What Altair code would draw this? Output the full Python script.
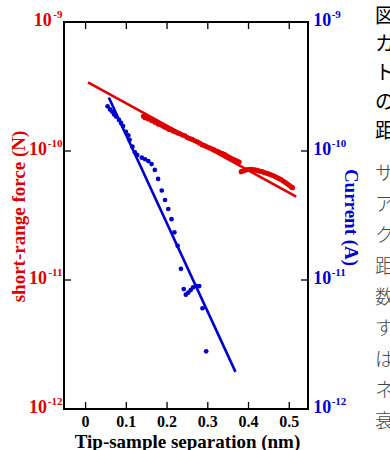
import altair as alt
import pandas as pd

RED = "#dd0000"
BLUE = "#0000cc"
SERIF = "Liberation Serif"
JP = "Noto Sans CJK JP"

# ---- data ----
force_x = [0.142, 0.146, 0.150, 0.154, 0.158, 0.162, 0.166, 0.170, 0.174, 0.178,
           0.182, 0.186, 0.190, 0.195, 0.200, 0.205, 0.210, 0.215, 0.220, 0.226,
           0.232, 0.238, 0.244, 0.250, 0.256, 0.262, 0.268, 0.274, 0.280, 0.286,
           0.292, 0.298, 0.304, 0.310, 0.316, 0.324, 0.330, 0.336, 0.342, 0.348,
           0.354, 0.360, 0.366, 0.372, 0.377,
           0.382, 0.386, 0.390, 0.395, 0.400, 0.405, 0.410, 0.415, 0.420, 0.425,
           0.430, 0.435, 0.440, 0.445, 0.450, 0.455, 0.460, 0.465, 0.470, 0.475,
           0.480, 0.485, 0.490, 0.495, 0.500, 0.505, 0.508]
force_y = [1.86e-10, 1.81e-10, 1.83e-10, 1.77e-10, 1.79e-10, 1.72e-10, 1.73e-10, 1.67e-10, 1.68e-10, 1.62e-10,
           1.61e-10, 1.59e-10, 1.56e-10, 1.53e-10, 1.51e-10, 1.47e-10, 1.46e-10, 1.43e-10, 1.41e-10, 1.38e-10,
           1.36e-10, 1.33e-10, 1.31e-10, 1.27e-10, 1.25e-10, 1.23e-10, 1.20e-10, 1.18e-10, 1.15e-10, 1.12e-10,
           1.10e-10, 1.08e-10, 1.06e-10, 1.04e-10, 1.02e-10, 9.95e-11, 9.73e-11, 9.55e-11, 9.38e-11, 9.12e-11,
           8.91e-11, 8.71e-11, 8.55e-11, 8.36e-11, 8.20e-11,
           6.92e-11, 7.00e-11, 7.08e-11, 7.14e-11, 7.19e-11, 7.21e-11, 7.18e-11, 7.14e-11, 7.08e-11, 7.02e-11,
           6.95e-11, 6.89e-11, 6.79e-11, 6.73e-11, 6.64e-11, 6.55e-11, 6.46e-11, 6.34e-11, 6.22e-11, 6.11e-11,
           6.00e-11, 5.86e-11, 5.73e-11, 5.57e-11, 5.42e-11, 5.27e-11, 5.20e-11]
force_fit_x = [0.006, 0.517]
force_fit_y = [3.41e-10, 4.43e-11]

current_x = [0.054, 0.060, 0.065, 0.070, 0.075, 0.082, 0.087, 0.092, 0.099, 0.105,
             0.108, 0.115, 0.121, 0.127, 0.138, 0.146, 0.154, 0.162, 0.170, 0.178,
             0.187, 0.195, 0.203, 0.211, 0.218, 0.226, 0.234, 0.241, 0.246, 0.252,
             0.258, 0.264, 0.273, 0.279, 0.287, 0.296]
current_y = [2.22e-10, 2.10e-10, 2.02e-10, 1.92e-10, 1.85e-10, 1.74e-10, 1.65e-10, 1.56e-10, 1.41e-10, 1.32e-10,
             1.22e-10, 1.08e-10, 9.77e-11, 9.31e-11, 8.87e-11, 8.63e-11, 8.36e-11, 7.92e-11, 7.13e-11, 6.07e-11,
             4.94e-11, 4.17e-11, 3.55e-11, 2.96e-11, 2.34e-11, 1.84e-11, 1.22e-11, 8.51e-12, 7.69e-12, 7.98e-12,
             8.36e-12, 8.77e-12, 8.97e-12, 8.97e-12, 6.04e-12, 2.80e-12]
current_fit_x = [0.057, 0.368]
current_fit_y = [2.60e-10, 1.94e-12]

x_ticks = [0, 0.1, 0.2, 0.3, 0.4, 0.5]
x_labels = ["0", "0.1", "0.2", "0.3", "0.4", "0.5"]
y_ticks = [1e-9, 1e-10, 1e-11, 1e-12]
y_exps = ["-9", "-10", "-11", "-12"]

x_title = "Tip-sample separation (nm)"
left_title = "short-range force (N)"
right_title = "Current (A)"
jp_bold = ["図", "カ", "ト", "の", "距"]
jp_light = ["サ", "ア", "ク", "距", "数", "す", "は", "ネ", "衰"]

# ---- chart ----
W, H = 244, 387
TICK = 7
xs = alt.Scale(domain=[-0.053, 0.546], nice=False, zero=False)
ys = alt.Scale(type="log", domain=[1e-12, 1e-9], nice=False)


def X(f):
    return alt.X(f, type="quantitative", scale=xs, axis=None)


def Y(f):
    return alt.Y(f, type="quantitative", scale=ys, axis=None)


force_df = pd.DataFrame({"x": force_x, "y": force_y})
force_fit = pd.DataFrame({"x": force_fit_x, "y": force_fit_y})
cur_df = pd.DataFrame({"x": current_x, "y": current_y})
cur_fit = pd.DataFrame({"x": current_fit_x, "y": current_fit_y})
xt = pd.DataFrame({"v": x_ticks, "l": x_labels})
yt = pd.DataFrame({"v": y_ticks, "e": y_exps})

layers = []
layers.append(alt.Chart(force_df).mark_circle(color=RED, size=26, opacity=1).encode(x=X("x"), y=Y("y")))
layers.append(alt.Chart(force_fit).mark_line(color=RED, strokeWidth=2.6).encode(x=X("x"), y=Y("y")))
layers.append(alt.Chart(cur_df).mark_circle(color=BLUE, size=22, opacity=1).encode(x=X("x"), y=Y("y")))
layers.append(alt.Chart(cur_fit).mark_line(color=BLUE, strokeWidth=2.6).encode(x=X("x"), y=Y("y")))

# inward ticks
layers.append(alt.Chart(xt).mark_rule(color="black", strokeWidth=1.3).encode(
    x=X("v"), y=alt.value(H - TICK), y2=alt.value(H)))
layers.append(alt.Chart(xt).mark_rule(color="black", strokeWidth=1.3).encode(
    x=X("v"), y=alt.value(0), y2=alt.value(TICK)))
layers.append(alt.Chart(yt).mark_rule(color="black", strokeWidth=1.3).encode(
    y=Y("v"), x=alt.value(0), x2=alt.value(TICK)))
layers.append(alt.Chart(yt).mark_rule(color="black", strokeWidth=1.3).encode(
    y=Y("v"), x=alt.value(W - TICK), x2=alt.value(W)))

# x tick labels
layers.append(alt.Chart(xt).mark_text(font=SERIF, fontWeight="bold", fontSize=16, color="black",
                                      align="center", baseline="alphabetic").encode(
    x=X("v"), y=alt.value(H + 18.3), text="l:N"))

# left y labels (red)
layers.append(alt.Chart(yt).mark_text(font=SERIF, fontWeight="bold", fontSize=11, color=RED,
                                      align="right", baseline="alphabetic", dy=-4).encode(
    y=Y("v"), x=alt.value(-1.5), text="e:N"))
layers.append(alt.Chart(yt).transform_filter("length(datum.e) == 2").mark_text(
    font=SERIF, fontWeight="bold", fontSize=18, color=RED, align="right", baseline="alphabetic", dy=4).encode(
    y=Y("v"), x=alt.value(-12.3), text=alt.value("10")))
layers.append(alt.Chart(yt).transform_filter("length(datum.e) == 3").mark_text(
    font=SERIF, fontWeight="bold", fontSize=18, color=RED, align="right", baseline="alphabetic", dy=4).encode(
    y=Y("v"), x=alt.value(-17), text=alt.value("10")))

# right y labels (blue)
layers.append(alt.Chart(yt).mark_text(font=SERIF, fontWeight="bold", fontSize=18, color=BLUE,
                                      align="left", baseline="alphabetic", dy=4).encode(
    y=Y("v"), x=alt.value(W + 5.3), text=alt.value("10")))
layers.append(alt.Chart(yt).mark_text(font=SERIF, fontWeight="bold", fontSize=11, color=BLUE,
                                      align="left", baseline="alphabetic", dy=-4).encode(
    y=Y("v"), x=alt.value(W + 23.7), text="e:N"))

# titles
layers.append(alt.Chart(pd.DataFrame({"t": [x_title]})).mark_text(
    font=SERIF, fontWeight="bold", fontSize=19, color="black", align="center", baseline="alphabetic").encode(
    x=alt.value(123.5), y=alt.value(425.5), text="t:N"))
layers.append(alt.Chart(pd.DataFrame({"t": [left_title]})).mark_text(
    font=SERIF, fontWeight="bold", fontSize=19, color=RED, align="center", baseline="alphabetic", angle=270).encode(
    x=alt.value(-39.5), y=alt.value(194.5), text="t:N"))
layers.append(alt.Chart(pd.DataFrame({"t": [right_title]})).mark_text(
    font=SERIF, fontWeight="bold", fontSize=19, color=BLUE, align="center", baseline="alphabetic", angle=90).encode(
    x=alt.value(281), y=alt.value(195.5), text="t:N"))

# cropped Japanese caption at the right edge
layers.append(alt.Chart(pd.DataFrame({"t": [0]})).mark_text(
    text=jp_bold, font=JP, fontWeight="normal", fontSize=20, color="#000000", align="left",
    baseline="top", lineHeight=28.7).encode(x=alt.value(311), y=alt.value(-15.2)))
layers.append(alt.Chart(pd.DataFrame({"t": [0]})).mark_text(
    text=jp_light, font=JP, fontWeight=300, fontSize=19, color="#444444", align="left",
    baseline="top", lineHeight=31).encode(x=alt.value(311), y=alt.value(143.2)))

chart = alt.layer(*layers).properties(
    width=W, height=H,
    padding={"left": 64, "top": 22, "right": 82, "bottom": 41},
    autosize=alt.AutoSizeParams(type="none"),
    background="white",
).configure_view(stroke="black", strokeWidth=2)

chart.save("out.html", embed_options={"renderer": "svg", "actions": False})
